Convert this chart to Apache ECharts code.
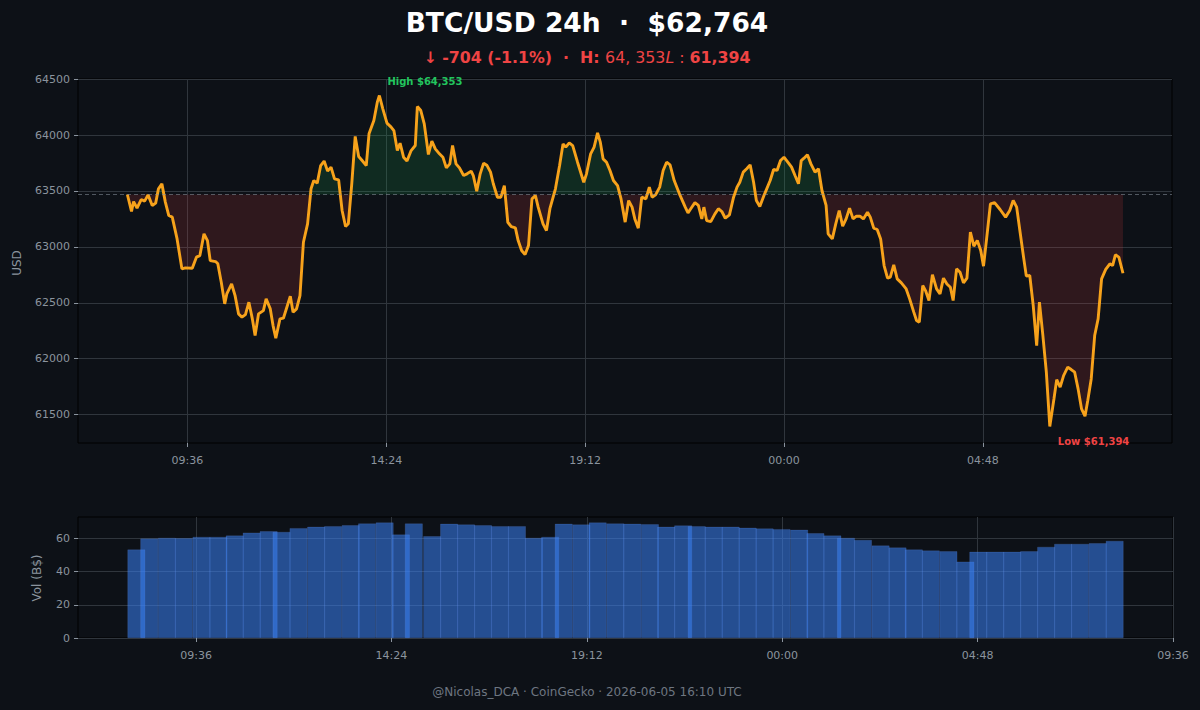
<!DOCTYPE html>
<html>
<head>
<meta charset="utf-8">
<title>BTC/USD 24h</title>
<script src="https://cdn.jsdelivr.net/npm/echarts@6/dist/echarts.min.js"></script>
<style>
  html, body { margin: 0; padding: 0; background: #0d1117; }
  #chart { width: 1200px; height: 710px; }
</style>
</head>
<body>
<div id="chart"></div>
<script>
// price, minutes since 00:00 of the first day (5 min steps)
var timeMin = [489,495,498,503,509,514,519,525,530,534,539,544,549,554,561,568,573,583,589,594,600,605,609,617,620,625,630,633,640,645,650,655,660,665,670,674,679,686,690,696,700,704,710,715,720,725,729,734,739,744,750,755,759,764,769,774,779,784,789,795,800,805,809,814,819,824,829,835,839,846,851,854,859,865,871,875,880,884,889,894,900,906,909,914,919,925,930,935,941,946,951,956,960,965,970,976,981,987,990,995,1000,1005,1010,1015,1019,1025,1030,1035,1040,1045,1051,1055,1060,1065,1070,1075,1080,1084,1091,1096,1101,1109,1115,1120,1124,1129,1134,1141,1150,1154,1160,1165,1170,1174,1178,1183,1188,1193,1199,1204,1210,1215,1220,1224,1229,1234,1240,1245,1249,1254,1260,1265,1270,1275,1281,1290,1297,1301,1305,1311,1316,1321,1324,1328,1334,1340,1345,1350,1355,1361,1367,1372,1376,1381,1386,1391,1396,1400,1405,1412,1420,1425,1430,1435,1440,1445,1451,1456,1461,1465,1469,1474,1479,1485,1490,1495,1501,1504,1510,1515,1520,1525,1530,1535,1540,1545,1550,1555,1561,1565,1570,1575,1580,1585,1590,1594,1599,1604,1610,1617,1622,1628,1632,1636,1641,1645,1650,1655,1661,1666,1671,1676,1681,1685,1690,1695,1700,1705,1710,1715,1720,1725,1729,1734,1739,1745,1753,1761,1767,1772,1777,1782,1787,1791,1796,1801,1806,1810,1815,1820,1825,1831,1835,1840,1845,1851,1856,1861,1866,1871,1876,1880,1885,1890,1895,1900,1906,1912,1916,1920,1925,1931];
var price = [63468,63316,63405,63346,63423,63409,63465,63370,63391,63519,63563,63400,63280,63266,63071,62803,62812,62809,62908,62922,63116,63056,62877,62868,62848,62684,62490,62579,62668,62564,62401,62371,62394,62505,62356,62207,62401,62430,62535,62445,62296,62183,62356,62362,62460,62559,62416,62445,62564,63041,63205,63519,63593,63570,63727,63767,63677,63713,63608,63599,63325,63182,63206,63564,63987,63808,63772,63727,64011,64130,64294,64353,64234,64106,64071,64040,63861,63927,63802,63767,63861,63906,64255,64219,64100,63826,63945,63876,63832,63802,63706,63742,63906,63742,63706,63638,63653,63677,63638,63498,63653,63749,63727,63668,63564,63444,63444,63548,63220,63180,63170,63056,62967,62931,63012,63429,63459,63355,63206,63146,63341,63519,63727,63921,63892,63930,63906,63757,63578,63653,63832,63892,64020,63936,63787,63757,63683,63593,63548,63429,63221,63414,63355,63250,63167,63444,63429,63534,63444,63465,63534,63683,63757,63733,63593,63453,63355,63304,63341,63395,63370,63250,63355,63235,63226,63295,63341,63316,63256,63286,63444,63534,63578,63668,63698,63733,63578,63414,63361,63474,63593,63692,63683,63772,63802,63763,63713,63638,63564,63772,63793,63823,63742,63668,63698,63504,63370,63116,63071,63206,63325,63185,63250,63346,63250,63274,63274,63250,63310,63266,63167,63155,63071,62833,62720,62729,62839,62714,62678,62624,62535,62416,62341,62326,62654,62609,62520,62751,62624,62580,62720,62668,62639,62520,62803,62773,62678,62720,63131,63006,63056,62967,62827,63101,63385,63395,63334,63266,63325,63415,63355,63131,62908,62738,62744,62475,62117,62505,62207,61879,61394,61640,61813,61745,61849,61924,61903,61879,61730,61551,61486,61626,61819,62207,62356,62714,62798,62848,62833,62929,62908,62764];
var openPrice = 63468;

// volume bars (B$)
var volTime = [488,507,533,558,584,609,633,658,683,702,727,753,778,804,828,854,878,897,924,949,974,999,1024,1049,1074,1098,1118,1144,1168,1194,1219,1245,1269,1294,1314,1339,1364,1389,1414,1439,1465,1489,1514,1534,1559,1585,1610,1634,1659,1685,1710,1729,1754,1779,1804,1829,1854,1879,1905,1930];
var volB = [53.4,60.0,60.4,60.2,61.0,61.0,61.8,63.6,64.4,64.0,66.3,67.1,67.5,68.1,69.1,69.7,62.4,69.1,61.4,68.9,68.5,68.1,67.5,67.5,60.4,61.0,68.9,68.5,69.7,69.1,68.9,68.7,67.1,67.9,67.5,67.1,67.1,66.5,66.1,65.7,65.3,63.2,61.8,60.4,59.2,55.8,54.6,53.4,52.8,52.4,46.1,52.0,52.0,52.0,52.4,55.0,56.8,56.8,57.2,58.6];

// ticks
var priceTicks = [61500, 62000, 62500, 63000, 63500, 64000, 64500];
var timeTicks = [576, 864, 1152, 1440, 1728];
var volTimeTicks = [576, 864, 1152, 1440, 1728, 2016];
var volTicks = [0, 20, 40, 60];

var FONT = 'DejaVu Sans';
var GRID_C = '#30363d';
var LABEL_C = '#8b949e';

function hhmm(m) {
  m = Math.round(m);
  var h = Math.floor(m / 60) % 24, mm = m % 60;
  return (h < 10 ? '0' : '') + h + ':' + (mm < 10 ? '0' : '') + mm;
}
function plain(v) { return String(Math.round(v)); }

var n = Math.min(timeMin.length, price.length);
var lineData = [], upData = [], downData = [];
for (var i = 0; i < n; i++) {
  lineData.push([timeMin[i], price[i]]);
  upData.push([timeMin[i], Math.max(price[i], openPrice)]);
  downData.push([timeMin[i], Math.min(price[i], openPrice)]);
}
var volData = volTime.map(function (t, i) { return [t, volB[i]]; });

var chart = echarts.init(document.getElementById('chart'), null, {renderer: 'svg'});

var option = {
  backgroundColor: '#0d1117',
  animation: false,
  textStyle: {fontFamily: FONT},
  grid: [
    {left: 78, right: 28, top: 79, height: 364, show: true, borderColor: '#000000', borderWidth: 1},
    {left: 78, right: 27, top: 517, height: 121, show: true, borderColor: '#000000', borderWidth: 1}
  ],
  xAxis: [
    {
      type: 'value', gridIndex: 0, min: 417.5, max: 2002,
      axisLine: {show: false},
      axisTick: {show: true, customValues: timeTicks, length: 4, lineStyle: {color: LABEL_C}},
      axisLabel: {customValues: timeTicks, formatter: hhmm, color: LABEL_C, fontSize: 11, fontFamily: FONT, margin: 12},
      splitLine: {show: true, lineStyle: {color: GRID_C, width: 1}}
    },
    {
      type: 'value', gridIndex: 1, min: 402, max: 2016,
      axisLine: {show: false},
      axisTick: {show: true, customValues: volTimeTicks, length: 4, lineStyle: {color: LABEL_C}},
      axisLabel: {customValues: volTimeTicks, formatter: hhmm, color: LABEL_C, fontSize: 11, fontFamily: FONT, margin: 12},
      splitLine: {show: true, lineStyle: {color: GRID_C, width: 1}}
    }
  ],
  yAxis: [
    {
      type: 'value', gridIndex: 0, min: 61246, max: 64501,
      axisLine: {show: false},
      axisTick: {show: true, customValues: priceTicks, length: 4, lineStyle: {color: LABEL_C}},
      axisLabel: {customValues: priceTicks, formatter: plain, color: LABEL_C, fontSize: 11, fontFamily: FONT, margin: 8},
      splitLine: {show: true, lineStyle: {color: GRID_C, width: 1}}
    },
    {
      type: 'value', gridIndex: 1, min: 0, max: 73,
      axisLine: {show: false},
      axisTick: {show: true, customValues: volTicks, length: 4, lineStyle: {color: LABEL_C}},
      axisLabel: {customValues: volTicks, formatter: plain, color: LABEL_C, fontSize: 11, fontFamily: FONT, margin: 8},
      splitLine: {show: true, lineStyle: {color: GRID_C, width: 1}}
    }
  ],
  series: [
    {
      name: 'up', type: 'line', xAxisIndex: 0, yAxisIndex: 0, data: upData,
      showSymbol: false, silent: true,
      lineStyle: {width: 0, opacity: 0},
      areaStyle: {origin: openPrice, color: 'rgba(34,197,94,0.15)', opacity: 1}
    },
    {
      name: 'down', type: 'line', xAxisIndex: 0, yAxisIndex: 0, data: downData,
      showSymbol: false, silent: true,
      lineStyle: {width: 0, opacity: 0},
      areaStyle: {origin: openPrice, color: 'rgba(239,68,68,0.15)', opacity: 1}
    },
    {
      name: 'BTC', type: 'line', xAxisIndex: 0, yAxisIndex: 0, data: lineData,
      showSymbol: false,
      lineStyle: {color: '#f7a21b', width: 2.9},
      itemStyle: {color: '#f7a21b'},
      markLine: {
        silent: true, symbol: 'none', label: {show: false},
        lineStyle: {color: 'rgba(139,148,158,0.55)', type: [4, 3], width: 1},
        data: [{yAxis: openPrice}]
      },
      markPoint: {
        symbol: 'circle', symbolSize: 1, itemStyle: {color: 'rgba(0,0,0,0)'},
        data: [
          {type: 'max', label: {show: true, position: 'inside', align: 'left', offset: [8, -14],
            formatter: function (p) { return 'High $' + p.value.toLocaleString('en-US'); },
            color: '#22c55e', fontWeight: 'bold', fontSize: 10, fontFamily: FONT}},
          {type: 'min', label: {show: true, position: 'inside', align: 'left', offset: [8, 15],
            formatter: function (p) { return 'Low $' + p.value.toLocaleString('en-US'); },
            color: '#ef4444', fontWeight: 'bold', fontSize: 10, fontFamily: FONT}}
        ]
      }
    },
    {
      name: 'Vol', type: 'bar', xAxisIndex: 1, yAxisIndex: 1, data: volData,
      barWidth: 17.8,
      itemStyle: {color: 'rgba(59,130,246,0.55)', borderColor: 'rgba(130,170,255,0.25)', borderWidth: 0.6}
    }
  ],
  graphic: [
    {type: 'text', x: 587, y: 22, style: {text: 'BTC/USD 24h  ·  $62,764', fill: '#ffffff', font: 'bold 26.5px "DejaVu Sans"', align: 'center', verticalAlign: 'middle'}},
    {type: 'text', x: 587, y: 57, style: {
      text: '{b|↓ -704 (-1.1%)  ·  H: }{n|64, 353}{i|L}{n| : }{b|61,394}',
      align: 'center', verticalAlign: 'middle',
      rich: {
        b: {fill: '#ef4444', font: 'bold 15.8px "DejaVu Sans"'},
        n: {fill: '#ef4444', font: '15.8px "DejaVu Sans"'},
        i: {fill: '#ef4444', font: 'italic 15.8px "DejaVu Sans"'}
      }
    }},
    {type: 'text', x: 17, y: 263, rotation: Math.PI / 2, style: {text: 'USD', fill: LABEL_C, font: '12px "DejaVu Sans"', align: 'center', verticalAlign: 'middle'}},
    {type: 'text', x: 37, y: 578, rotation: Math.PI / 2, style: {text: 'Vol (B$)', fill: LABEL_C, font: '12px "DejaVu Sans"', align: 'center', verticalAlign: 'middle'}},
    {type: 'text', x: 587, y: 692, style: {text: '@Nicolas_DCA · CoinGecko · 2026-06-05 16:10 UTC', fill: '#6e7681', font: '12px "DejaVu Sans"', align: 'center', verticalAlign: 'middle'}}
  ]
};
chart.setOption(option);

window.addEventListener('resize', function () { chart.resize(); });
</script>
</body>
</html>
